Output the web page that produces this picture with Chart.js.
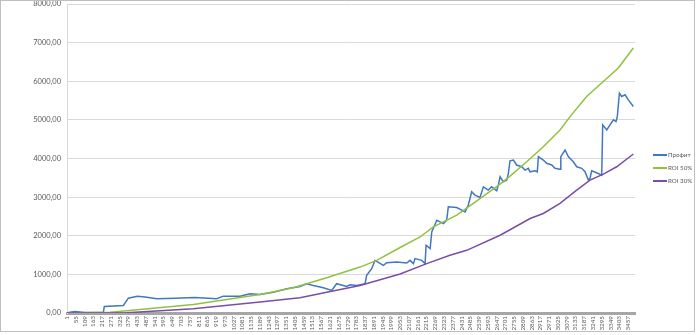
<!DOCTYPE html>
<html>
<head>
<meta charset="utf-8">
<script src="https://cdn.jsdelivr.net/npm/chart.js@4"></script>
<style>
    html, body { margin: 0; padding: 0; background: #fff; }
    #wrap { position: relative; width: 700px; height: 335px; }
    #frame { position: absolute; left: 0; top: 0; width: 695px; height: 332px; box-sizing: border-box; border: 1px solid #bfbfbf; pointer-events: none; }
    #legend { position: absolute; left: 653px; top: 148px; font-family: Lato, sans-serif; font-size: 6.2px; color: #595959; }
    .item { display: flex; align-items: center; height: 13px; white-space: nowrap; }
    .swatch { width: 14px; height: 2px; margin-right: 1px; }
</style>
</head>
<body>
<div id="wrap">
    <canvas id="chart" width="700" height="335"></canvas>
    <div id="legend"></div>
    <div id="frame"></div>
</div>
<script>
// --- Data ---
const xTickLabels = [1, 55, 109, 163, 217, 271, 325, 379, 433, 487, 541, 595, 649, 703, 757, 811, 865, 919, 973,
    1027, 1081, 1135, 1189, 1243, 1297, 1351, 1405, 1459, 1513, 1567, 1621, 1675, 1729, 1783, 1837, 1891, 1945,
    1999, 2053, 2107, 2161, 2215, 2269, 2323, 2377, 2431, 2485, 2539, 2593, 2647, 2701, 2755, 2809, 2863, 2917,
    2971, 3025, 3079, 3133, 3187, 3241, 3295, 3349, 3403, 3457];
const yTickValues = [0, 1000, 2000, 3000, 4000, 5000, 6000, 7000, 8000];

const seriesNames = ['Профит', 'ROI 50%', 'ROI 30%'];

const profitTrades = [1, 19, 50, 112, 225, 231, 348, 379, 434, 482, 554, 666, 790, 923, 964, 1067, 1128, 1190,
    1272, 1355, 1436, 1478, 1518, 1580, 1632, 1662, 1724, 1745, 1786, 1837, 1847, 1878, 1898, 1950, 1971, 2032,
    2094, 2114, 2135, 2145, 2186, 2207, 2213, 2238, 2248, 2279, 2299, 2320, 2340, 2350, 2402, 2433, 2453, 2473,
    2494, 2514, 2545, 2566, 2596, 2617, 2648, 2658, 2669, 2689, 2710, 2720, 2730, 2751, 2771, 2802, 2823, 2843,
    2853, 2884, 2898, 2905, 2935, 2956, 2987, 3007, 3038, 3043, 3069, 3090, 3120, 3141, 3172, 3192, 3213, 3223,
    3233, 3264, 3295, 3301, 3326, 3346, 3367, 3383, 3391, 3404, 3418, 3439, 3459, 3490];
const profitValues = [0, 21, 39, 13, 21, 169, 195, 384, 436, 416, 369, 384, 403, 369, 436, 436, 499, 480,
    540, 628, 688, 758, 714, 654, 584, 758, 688, 732, 714, 758, 974, 1148, 1363, 1234, 1304, 1319,
    1293, 1363, 1278, 1408, 1363, 1278, 1753, 1667, 2098, 2402, 2358, 2317, 2402, 2748, 2732, 2662, 2618, 2792,
    3137, 3052, 2992, 3267, 3181, 3267, 3163, 3311, 3527, 3397, 3441, 3615, 3940, 3960, 3831, 3786, 3701, 3745,
    3656, 3682, 3656, 4046, 3960, 3875, 3831, 3745, 3719, 4046, 4220, 4046, 3916, 3786, 3745, 3657, 3441, 3485,
    3682, 3631, 3571, 4870, 4740, 4870, 5000, 4955, 5085, 5693, 5605, 5649, 5519, 5345];

const roi50Trades = [1, 266, 369, 779, 1190, 1395, 1601, 1806, 1909, 2053, 2176, 2258, 2402, 2504, 2669, 2730,
    2833, 2935, 3038, 3100, 3202, 3305, 3397, 3490];
const roi50Values = [0, 20, 57, 221, 480, 654, 914, 1189, 1363, 1696, 1968, 2228, 2532, 2836, 3337, 3545,
    3916, 4306, 4740, 5085, 5604, 5994, 6342, 6861];

const roi30Trades = [1, 369, 779, 1190, 1436, 1601, 1806, 2053, 2217, 2360, 2463, 2669, 2854, 2935, 3038, 3141,
    3223, 3305, 3387, 3490];
const roi30Values = [0, 5, 109, 286, 395, 540, 714, 1008, 1278, 1493, 1623, 2013, 2446, 2576, 2836, 3181,
    3440, 3597, 3786, 4116];

const seriesColors = ['#4277c2', '#92c040', '#7a4ea6'];

// --- Helpers ---
function toPoints(xs, ys) {
    return xs.map((x, i) => ({ x: x, y: ys[i] }));
}

function formatValue(v) {
    return v.toFixed(2).replace('.', ',');
}

// --- Chart ---
const chart = new Chart(document.getElementById('chart'), {
    type: 'line',
    data: {
        datasets: [
            { label: seriesNames[0], data: toPoints(profitTrades, profitValues), borderColor: seriesColors[0], borderWidth: 1.5, order: 2 },
            { label: seriesNames[1], data: toPoints(roi50Trades, roi50Values), borderColor: seriesColors[1], borderWidth: 1.5, order: 1 },
            { label: seriesNames[2], data: toPoints(roi30Trades, roi30Values), borderColor: seriesColors[2], borderWidth: 1.5, order: 0 }
        ]
    },
    options: {
        responsive: false,
        animation: false,
        elements: { point: { radius: 0 }, line: { tension: 0 } },
        layout: { padding: { top: 4, right: 65, left: 0, bottom: 0 } },
        plugins: { legend: { display: false }, tooltip: { enabled: false } },
        scales: {
            x: {
                type: 'linear',
                min: 1,
                max: 3500,
                afterFit: (scale) => {
                    scale.height = 22;
                    scale.paddingLeft = 0;
                    scale.paddingRight = 0;
                },
                afterBuildTicks: (scale) => { scale.ticks = xTickLabels.map(v => ({ value: v })); },
                grid: { display: false, drawTicks: false },
                border: { display: true, color: '#a6a6a6', width: 3 },
                ticks: {
                    autoSkip: false,
                    minRotation: 90,
                    maxRotation: 90,
                    padding: 3,
                    color: '#595959',
                    font: { family: 'Lato, sans-serif', size: 6.3 },
                    callback: (v) => String(v)
                }
            },
            y: {
                min: 0,
                max: 8000,
                afterFit: (scale) => {
                    scale.width = 67;
                    scale.paddingTop = 0;
                    scale.paddingBottom = 0;
                },
                afterBuildTicks: (scale) => { scale.ticks = yTickValues.map(v => ({ value: v })); },
                grid: { color: '#d9d9d9', drawTicks: false },
                border: { display: true, color: '#d9d9d9' },
                ticks: {
                    padding: 6,
                    color: '#595959',
                    font: { family: 'Lato, sans-serif', size: 7.5 },
                    callback: (v) => formatValue(v)
                }
            }
        }
    }
});

// --- Legend (HTML, right side) ---
const legendEl = document.getElementById('legend');
chart.data.datasets.forEach(ds => {
    const item = document.createElement('div');
    item.className = 'item';
    item.innerHTML = `<span class="swatch" style="background:${ds.borderColor}"></span><span>${ds.label}</span>`;
    legendEl.appendChild(item);
});
</script>
</body>
</html>
